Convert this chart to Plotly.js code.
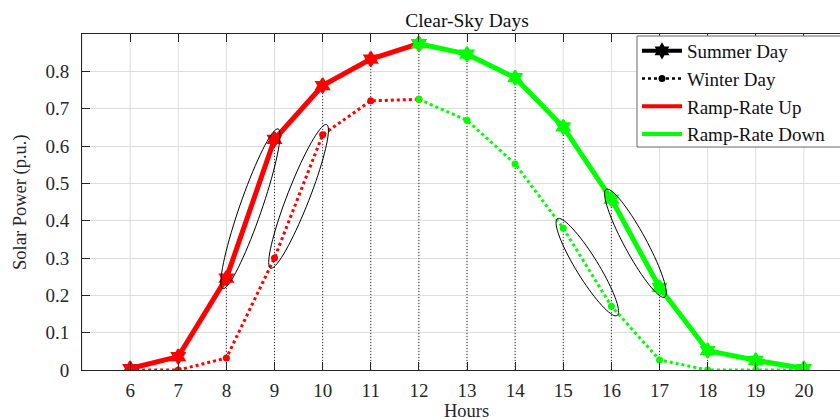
<!DOCTYPE html>
<html><head><meta charset="utf-8">
<script src="https://cdn.plot.ly/plotly-3.0.1.min.js"></script>
<style>html,body{margin:0;padding:0;overflow:hidden;background:#fff;width:840px;height:420px}#chart{width:860px;height:420px}</style>
</head><body><div id="chart"></div>
<script>
// ---- data ----
const hours  = [6,7,8,9,10,11,12,13,14,15,16,17,18,19,20];
const summer = [0.004,0.036,0.246,0.618,0.762,0.833,0.874,0.846,0.783,0.651,0.458,0.221,0.052,0.026,0.004];
const winter = [0,0,0.032,0.300,0.630,0.721,0.725,0.669,0.552,0.380,0.171,0.027,0,0,0];
const peakHour = 12;
const xTicks = [6,7,8,9,10,11,12,13,14,15,16,17,18,19,20];
const yTicks = [0,0.1,0.2,0.3,0.4,0.5,0.6,0.7,0.8];
// highlighted ramp segments (series, start hour, end hour)
const ellSeries = ['summer','winter','winter','summer'];
const ellFrom   = [8, 9, 15, 16];
const ellTo     = [9, 10, 16, 17];

const RED = 'rgb(255,0,0)', GREEN = 'rgb(0,255,0)';
const FONT = 'Liberation Serif, Times New Roman, serif';
const XR = [5,21], YR = [0,0.9];
const M = {l:82, r:8, t:34, b:50};
const W = 860, H = 420;
const PW = W - M.l - M.r, PH = H - M.t - M.b;
const pxX = PW / (XR[1]-XR[0]);
const pxY = PH / (YR[1]-YR[0]);

function seg(arr, up){
  const xs=[], ys=[];
  hours.forEach((h,i)=>{ if(up ? h<=peakHour : h>=peakHour){ xs.push(h); ys.push(arr[i]); } });
  return {xs, ys};
}
const traces = [];
// stems (dotted verticals to summer values)
const sx=[], sy=[];
hours.forEach((h,i)=>{ sx.push(h,h,null); sy.push(0,summer[i],null); });
traces.push({x:sx,y:sy,mode:'lines',line:{color:'#333',width:1,dash:'1px,2px'},showlegend:false,hoverinfo:'skip'});

[[winter,false],[summer,true]].forEach(([arr,isSummer])=>{
  [true,false].forEach(up=>{
    const s = seg(arr, up);
    const c = up?RED:GREEN;
    traces.push({x:s.xs,y:s.ys,mode:'lines+markers',showlegend:false,
      line:{color:c, width: isSummer?5:3, dash: isSummer?'solid':'dot'},
      marker:{color:c, size: isSummer?11:7, symbol: isSummer?'hexagram':'circle', line:{color:c,width:isSummer?2:0}}});
  });
});
// legend entries
traces.push({x:[null],y:[null],name:'Summer Day',mode:'lines+markers',line:{color:'#000',width:4},marker:{color:'#000',size:10,symbol:'hexagram',line:{color:'#000',width:2}}});
traces.push({x:[null],y:[null],name:'Winter Day',mode:'lines+markers',line:{color:'#000',width:2.5,dash:'dot'},marker:{color:'#000',size:7,symbol:'circle'}});
traces.push({x:[null],y:[null],name:'Ramp-Rate Up',mode:'lines',line:{color:RED,width:4}});
traces.push({x:[null],y:[null],name:'Ramp-Rate Down',mode:'lines',line:{color:GREEN,width:4}});

// ellipses around ramp segments
const shapes = [];
for(let h=XR[0]; h<=XR[1]; h++){
  shapes.push({type:'line',xref:'x',yref:'paper',x0:h,x1:h,y0:0,y1:1,line:{color:'#dedede',width:1},layer:'below'});
}
for(let k=0;k<ellSeries.length;k++){
  const arr = ellSeries[k]==='summer'?summer:winter;
  const a = hours.indexOf(ellFrom[k]), b = hours.indexOf(ellTo[k]);
  const ax = hours[a]*pxX, ay = -arr[a]*pxY, bx = hours[b]*pxX, by = -arr[b]*pxY;
  const cx=(ax+bx)/2, cy=(ay+by)/2;
  const dx=bx-ax, dy=by-ay, len=Math.hypot(dx,dy);
  const ux=dx/len, uy=dy/len;
  const A = len/2 + 11, B = 11;
  let p='';
  for(let t=0;t<=72;t++){
    const th = t/72*2*Math.PI;
    const px = cx + A*Math.cos(th)*ux - B*Math.sin(th)*uy;
    const py = cy + A*Math.cos(th)*uy + B*Math.sin(th)*ux;
    p += (t===0?'M':'L') + (px/pxX).toFixed(4) + ',' + (-py/pxY).toFixed(5) + ' ';
  }
  shapes.push({type:'path',path:p+'Z',xref:'x',yref:'y',line:{color:'#000',width:1}});
}
// legend box
shapes.push({type:'rect',xref:'paper',yref:'paper',x0:(637-M.l)/PW,x1:(870-M.l)/PW,y0:1-(147-M.t)/PH,y1:1-(36-M.t)/PH,
  fillcolor:'#fff',line:{color:'#666',width:1},layer:'above'});

const layout = {
  width:W, height:H, margin:M,
  paper_bgcolor:'#fff', plot_bgcolor:'#fff',
  font:{family:FONT, size:19, color:'#262626'},
  title:{text:'Clear-Sky Days', font:{family:FONT,size:19.5,color:'#111'}, x:0.5, xref:'paper', y:1-20/H, yref:'container', yanchor:'middle'},
  xaxis:{range:XR, tickvals:xTicks, ticktext:xTicks.map(String), ticks:'inside', ticklen:8, tickcolor:'#262626',
    showline:true, linecolor:'#262626', linewidth:1, mirror:'ticks', showgrid:false,
    zeroline:false, tickfont:{family:FONT,size:19,color:'#262626'}, ticklabelstandoff:3},
  yaxis:{range:YR, tickvals:yTicks, ticktext:yTicks.map(v=>v===0?'0':v.toFixed(1)), ticks:'inside', ticklen:8, tickcolor:'#262626',
    showline:true, linecolor:'#262626', linewidth:1, showgrid:true, gridcolor:'#dedede', gridwidth:1,
    zeroline:false, tickfont:{family:FONT,size:19,color:'#262626'}, ticklabelstandoff:8},
  legend:{x:(637-M.l)/PW, y:1-(32-M.t)/PH, xanchor:'left', yanchor:'top', bgcolor:'rgba(0,0,0,0)', borderwidth:0,
    font:{family:FONT,size:19,color:'#111'}, itemwidth:40, tracegroupgap:0},
  shapes:shapes,
  annotations:[
    {text:'Hours', xref:'paper', yref:'paper', x:(466-M.l)/PW, y:-(411-(H-M.b))/PH, xanchor:'center', yanchor:'middle', showarrow:false, font:{family:FONT,size:18.5,color:'#262626'}},
    {text:'Solar Power (p.u.)', xref:'paper', yref:'paper', x:-(82-20)/PW, y:0.5, xanchor:'center', yanchor:'middle', textangle:-90, showarrow:false, font:{family:FONT,size:18.5,color:'#262626'}}
  ],
  showlegend:true
};
Plotly.newPlot('chart', traces, layout, {displayModeBar:false, staticPlot:true});
</script></body></html>
